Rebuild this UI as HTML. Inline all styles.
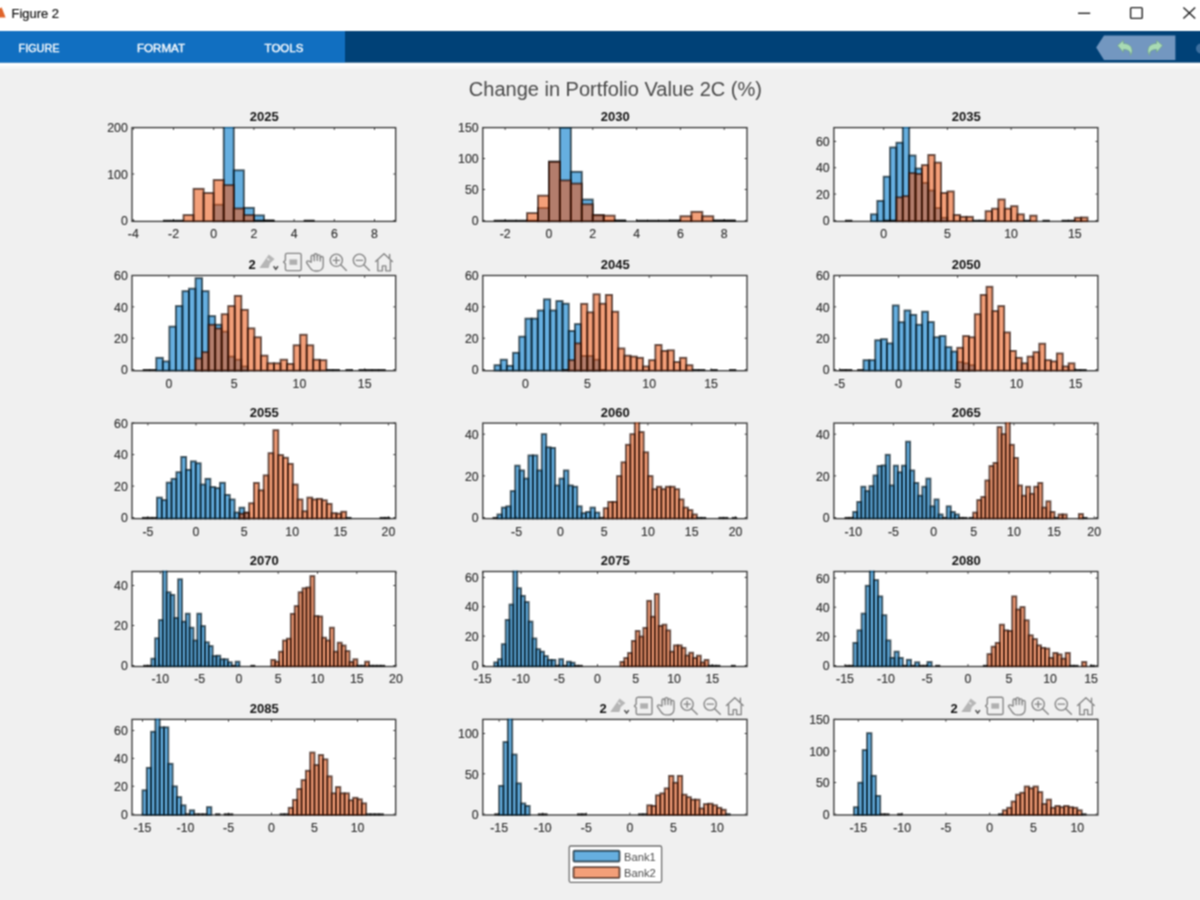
<!DOCTYPE html>
<html lang="en">
<head>
<meta charset="utf-8">
<title>Figure 2</title>
<style>
html,body{margin:0;padding:0;background:#f0f0f0;overflow:hidden}
body{width:1200px;height:900px;position:relative;font-family:"Liberation Sans",sans-serif}
svg{position:absolute;left:0;top:0;display:block}
text{font-family:"Liberation Sans",sans-serif}
.tl{font-size:12.3px;fill:#2e2e2e;stroke:#2e2e2e;stroke-width:.15}
.tt{font-size:13px;font-weight:bold;fill:#111}
.box{fill:none;stroke:#3a3a3a;stroke-width:1.35}
.tk{fill:none;stroke:#3a3a3a;stroke-width:1}
.b1{fill:#0079cc;fill-opacity:.6;stroke:#001018;stroke-opacity:.66;stroke-width:1.9}
.b2{fill:#ea5a18;fill-opacity:.58;stroke:#200800;stroke-opacity:.66;stroke-width:1.9}
.tb{fill:#0c0c0c;fill-opacity:.82}
.main{font-size:20px;fill:#484848}
.tab{font-size:11.3px;fill:#fff;stroke:#fff;stroke-width:.35}
.wt{font-size:12px;fill:#111;stroke:#111;stroke-width:.2}
.ic{fill:none;stroke:#858585;stroke-width:1.35;stroke-linecap:round;stroke-linejoin:round}
.lg{font-size:11.2px;fill:#4a4a4a}
</style>
</head>
<body>
<svg width="1200" height="900" viewBox="0 0 1200 900">
<defs>
<filter id="soft" filterUnits="userSpaceOnUse" x="0" y="0" width="1200" height="900" color-interpolation-filters="sRGB"><feConvolveMatrix order="3" kernelMatrix="1 2 1 2 4 2 1 2 1" divisor="16" edgeMode="duplicate" preserveAlpha="false"/></filter>
<g id="toolbar">
  <rect x="257" y="250" width="139" height="23" fill="#f0f0f0"/>
  <!-- brush -->
  <path d="M259.4 268 L268.8 254.6 L274.6 259 L270 263.2 L268.6 268 Z" fill="#b6b6b6"/>
  <path d="M267.2 258.5l2.2 1.8" stroke="#f0f0f0" stroke-width="1.2" fill="none"/>
  <path d="M273.6 266.2l2.2 3 2.2-3" fill="none" stroke="#4a4a4a" stroke-width="1.5"/>
  <!-- data tip -->
  <path class="ic" d="M287 253.4h12.6a1.6 1.6 0 0 1 1.6 1.6v14a1.6 1.6 0 0 1-1.6 1.6h-12.6a1.6 1.6 0 0 1-1.6-1.6v-5.2l-1.8-1.8 1.8-1.8v-5.2a1.6 1.6 0 0 1 1.6-1.6z"/>
  <rect x="289.4" y="259.4" width="7.8" height="5.4" fill="#b0b0b0"/>
  <!-- hand -->
  <path class="ic" d="M311.2 262.2v-5.6a1.5 1.5 0 0 1 3 0v-1.4a1.5 1.5 0 0 1 3 0v1.2a1.5 1.5 0 0 1 3 0v1.6a1.5 1.5 0 0 1 3 0v7.2c0 3.4-2.2 5.8-5.6 5.8h-2.4c-2.4 0-3.8-1.2-5-3l-3.4-5c-.8-1.4.6-2.6 2-1.8z"/>
  <path class="ic" d="M314.2 256.6v4.2M317.2 256.4v4.2M320.2 258v3"/>
  <!-- zoom in -->
  <circle class="ic" cx="336.3" cy="260.3" r="6.1"/>
  <path class="ic" d="M341 265l5.4 5.4" stroke-width="1.8"/>
  <path class="ic" d="M333.2 260.3h6.2M336.3 257.2v6.2"/>
  <!-- zoom out -->
  <circle class="ic" cx="359.4" cy="260.3" r="6.1"/>
  <path class="ic" d="M364.1 265l5.4 5.4" stroke-width="1.8"/>
  <path class="ic" d="M356.2 260.3h6.4"/>
  <!-- home -->
  <path class="ic" d="M375.6 261.6l8.4-7.8 8.4 7.8M377.8 260.4v10.4h4.6v-5h3.4v5h4.6v-10.4M389.6 258.4v-4"/>
</g>
</defs>
<g filter="url(#soft)">
<rect x="0" y="0" width="1200" height="900" fill="#f0f0f0"/>
<!-- window title bar -->
<rect x="0" y="0" width="1200" height="31" fill="#fff"/>
<g>
<path d="M-1 17.5 L-1 9.5 L1.6 7.2 L5.6 17.5 Z" fill="#e0642a"/>
<text class="wt" x="11.5" y="18.3" textLength="47.5" lengthAdjust="spacingAndGlyphs">Figure 2</text>
<path d="M1078 13.3h12.2" stroke="#222" stroke-width="1.4" fill="none"/>
<rect x="1130.6" y="7.6" width="11.6" height="10.8" rx="1" fill="none" stroke="#222" stroke-width="1.4"/>
<path d="M1183.4 7.4l11.8 11M1195.2 7.4l-11.8 11" stroke="#222" stroke-width="1.4" fill="none"/>
</g>
<!-- toolstrip -->
<rect x="0" y="31" width="1200" height="31.8" fill="#004177"/>
<rect x="0" y="31" width="345" height="31.8" fill="#116fc1"/>
<rect x="0" y="62.8" width="1200" height="3.4" fill="#fefefe"/><rect x="0" y="66.2" width="1200" height="2.6" fill="#f7f7f7"/>
<g>
<text class="tab" x="18.5" y="51.6" textLength="41" lengthAdjust="spacingAndGlyphs">FIGURE</text>
<text class="tab" x="137" y="51.6" textLength="48" lengthAdjust="spacingAndGlyphs">FORMAT</text>
<text class="tab" x="264.6" y="51.6" textLength="38.8" lengthAdjust="spacingAndGlyphs">TOOLS</text>
<path d="M1096.2 47.4 L1104 35.4 H1175.4 V60 H1104 Z" fill="#7397c0"/>
<path d="M1117.5 45.5l6-5.2v3.2c5.4 0 8.6 2.8 8.6 7.4 0 1.8-.8 3.4-2 4.6 1-3.6-1.4-6-6.6-6v3z" fill="#a9dbb4" stroke="#6f9f86" stroke-width=".7"/>
<path d="M1162.5 45.5l-6-5.2v3.2c-5.4 0-8.6 2.8-8.6 7.4 0 1.8.8 3.4 2 4.6-1-3.6 1.4-6 6.6-6v3z" fill="#a9dbb4" stroke="#6f9f86" stroke-width=".7"/>
<circle cx="1201" cy="48.5" r="5" fill="#3d6f9f"/>
<text class="main" x="615.4" y="95.8" text-anchor="middle">Change in Portfolio Value 2C (%)</text>
</g>
<g>
<rect x="132" y="127.6" width="263.65" height="93.8" fill="#fff"/>
<path class="tk" d="M133.3 221.4v-2.3 M133.3 127.6v2.3 M173.5 221.4v-2.3 M173.5 127.6v2.3 M213.7 221.4v-2.3 M213.7 127.6v2.3 M253.9 221.4v-2.3 M253.9 127.6v2.3 M294.1 221.4v-2.3 M294.1 127.6v2.3 M334.3 221.4v-2.3 M334.3 127.6v2.3 M374.5 221.4v-2.3 M374.5 127.6v2.3 M132 220.4h2.3 M395.65 220.4h-2.3 M132 174h2.3 M395.65 174h-2.3 M132 127.6h2.3 M395.65 127.6h-2.3"/>
<rect class="box" x="132" y="127.6" width="263.65" height="93.8"/>
<clipPath id="c0"><rect x="132" y="126.9" width="263.65" height="95.3"/></clipPath>
<g clip-path="url(#c0)">
<rect class="b1" x="213.7" y="204.72" width="10.05" height="16.68"/><rect class="b1" x="223.75" y="122.96" width="10.05" height="98.44"/><rect class="b1" x="233.8" y="170.29" width="10.05" height="51.11"/><rect class="b1" x="243.85" y="207.87" width="10.05" height="13.53"/><rect class="b1" x="253.9" y="215.39" width="10.05" height="6.01"/><rect class="tb" x="263.45" y="219.7" width="11.05" height="2.3"/><rect class="tb" x="303.65" y="219.7" width="11.05" height="2.3"/>
<rect class="tb" x="162.95" y="219.7" width="11.05" height="2.3"/><rect class="tb" x="173" y="219.7" width="11.05" height="2.3"/><rect class="b2" x="183.55" y="215.06" width="10.05" height="6.34"/><rect class="b2" x="193.6" y="188.85" width="10.05" height="32.55"/><rect class="b2" x="203.65" y="193.02" width="10.05" height="28.38"/><rect class="b2" x="213.7" y="180.03" width="10.05" height="41.37"/><rect class="b2" x="223.75" y="185.14" width="10.05" height="36.26"/><rect class="b2" x="233.8" y="208.48" width="10.05" height="12.92"/><rect class="b2" x="243.85" y="215.11" width="10.05" height="6.29"/><rect class="tb" x="253.4" y="219.7" width="11.05" height="2.3"/><rect class="tb" x="263.45" y="219.7" width="11.05" height="2.3"/>
</g>
<text class="tl" x="133.3" y="238.3" text-anchor="middle">-4</text>
<text class="tl" x="173.5" y="238.3" text-anchor="middle">-2</text>
<text class="tl" x="213.7" y="238.3" text-anchor="middle">0</text>
<text class="tl" x="253.9" y="238.3" text-anchor="middle">2</text>
<text class="tl" x="294.1" y="238.3" text-anchor="middle">4</text>
<text class="tl" x="334.3" y="238.3" text-anchor="middle">6</text>
<text class="tl" x="374.5" y="238.3" text-anchor="middle">8</text>
<text class="tl" x="127.8" y="225.1" text-anchor="end">0</text>
<text class="tl" x="127.8" y="178.7" text-anchor="end">100</text>
<text class="tl" x="127.8" y="132.3" text-anchor="end">200</text>
<text class="tt" x="264.22" y="121.2" text-anchor="middle">2025</text>
</g>
<g>
<rect x="482.8" y="127.6" width="264.2" height="93.8" fill="#fff"/>
<path class="tk" d="M505.13 221.4v-2.3 M505.13 127.6v2.3 M548.95 221.4v-2.3 M548.95 127.6v2.3 M592.77 221.4v-2.3 M592.77 127.6v2.3 M636.59 221.4v-2.3 M636.59 127.6v2.3 M680.41 221.4v-2.3 M680.41 127.6v2.3 M724.23 221.4v-2.3 M724.23 127.6v2.3 M482.8 220.4h2.3 M747 220.4h-2.3 M482.8 189.47h2.3 M747 189.47h-2.3 M482.8 158.53h2.3 M747 158.53h-2.3 M482.8 127.6h2.3 M747 127.6h-2.3"/>
<rect class="box" x="482.8" y="127.6" width="264.2" height="93.8"/>
<clipPath id="c1"><rect x="482.8" y="126.9" width="264.2" height="95.3"/></clipPath>
<g clip-path="url(#c1)">
<rect class="tb" x="493.68" y="219.7" width="11.96" height="2.3"/><rect class="tb" x="526.54" y="219.7" width="11.96" height="2.3"/><rect class="b1" x="538" y="208.03" width="10.96" height="13.37"/><rect class="b1" x="548.95" y="161.63" width="10.96" height="59.77"/><rect class="b1" x="559.91" y="127.6" width="10.96" height="93.8"/><rect class="b1" x="570.86" y="171.83" width="10.96" height="49.57"/><rect class="b1" x="581.82" y="199.55" width="10.96" height="21.85"/><rect class="b1" x="592.77" y="215.45" width="10.96" height="5.95"/><rect class="tb" x="603.23" y="219.7" width="11.96" height="2.3"/><rect class="tb" x="614.18" y="219.7" width="11.96" height="2.3"/><rect class="tb" x="636.09" y="219.7" width="11.96" height="2.3"/><rect class="tb" x="668.96" y="219.7" width="11.96" height="2.3"/><rect class="tb" x="712.78" y="219.7" width="11.96" height="2.3"/><rect class="tb" x="723.73" y="219.7" width="11.96" height="2.3"/>
<rect class="tb" x="504.63" y="219.7" width="11.96" height="2.3"/><rect class="tb" x="515.59" y="219.7" width="11.96" height="2.3"/><rect class="b2" x="527.04" y="213.1" width="10.96" height="8.3"/><rect class="b2" x="538" y="195.65" width="10.96" height="25.75"/><rect class="b2" x="548.95" y="161.81" width="10.96" height="59.59"/><rect class="b2" x="559.91" y="180.43" width="10.96" height="40.97"/><rect class="b2" x="570.86" y="183.59" width="10.96" height="37.81"/><rect class="b2" x="581.82" y="204.31" width="10.96" height="17.09"/><rect class="b2" x="592.77" y="215.02" width="10.96" height="6.38"/><rect class="b2" x="603.73" y="215.64" width="10.96" height="5.76"/><rect class="tb" x="614.18" y="219.7" width="11.96" height="2.3"/><rect class="tb" x="647.05" y="219.7" width="11.96" height="2.3"/><rect class="tb" x="658" y="219.7" width="11.96" height="2.3"/><rect class="tb" x="668.96" y="219.7" width="11.96" height="2.3"/><rect class="b2" x="680.41" y="216.25" width="10.96" height="5.15"/><rect class="b2" x="691.37" y="211.86" width="10.96" height="9.54"/><rect class="b2" x="702.32" y="216.25" width="10.96" height="5.15"/><rect class="tb" x="712.78" y="219.7" width="11.96" height="2.3"/><rect class="tb" x="723.73" y="219.7" width="11.96" height="2.3"/>
</g>
<text class="tl" x="505.13" y="238.3" text-anchor="middle">-2</text>
<text class="tl" x="548.95" y="238.3" text-anchor="middle">0</text>
<text class="tl" x="592.77" y="238.3" text-anchor="middle">2</text>
<text class="tl" x="636.59" y="238.3" text-anchor="middle">4</text>
<text class="tl" x="680.41" y="238.3" text-anchor="middle">6</text>
<text class="tl" x="724.23" y="238.3" text-anchor="middle">8</text>
<text class="tl" x="478.6" y="225.1" text-anchor="end">0</text>
<text class="tl" x="478.6" y="194.17" text-anchor="end">50</text>
<text class="tl" x="478.6" y="163.23" text-anchor="end">100</text>
<text class="tl" x="478.6" y="132.3" text-anchor="end">150</text>
<text class="tt" x="615.3" y="121.2" text-anchor="middle">2030</text>
</g>
<g>
<rect x="833.9" y="127.6" width="263.95" height="93.8" fill="#fff"/>
<path class="tk" d="M883.7 221.4v-2.3 M883.7 127.6v2.3 M947.4 221.4v-2.3 M947.4 127.6v2.3 M1011.1 221.4v-2.3 M1011.1 127.6v2.3 M1074.8 221.4v-2.3 M1074.8 127.6v2.3 M833.9 220.4h2.3 M1097.85 220.4h-2.3 M833.9 194.07h2.3 M1097.85 194.07h-2.3 M833.9 167.75h2.3 M1097.85 167.75h-2.3 M833.9 141.42h2.3 M1097.85 141.42h-2.3"/>
<rect class="box" x="833.9" y="127.6" width="263.95" height="93.8"/>
<clipPath id="c2"><rect x="833.9" y="126.9" width="263.95" height="95.3"/></clipPath>
<g clip-path="url(#c2)">
<rect class="tb" x="844.98" y="219.7" width="7.37" height="2.3"/><rect class="b1" x="870.96" y="214.34" width="6.37" height="7.06"/><rect class="b1" x="877.33" y="200.92" width="6.37" height="20.48"/><rect class="b1" x="883.7" y="176.7" width="6.37" height="44.7"/><rect class="b1" x="890.07" y="147.48" width="6.37" height="73.92"/><rect class="b1" x="896.44" y="142.74" width="6.37" height="78.66"/><rect class="b1" x="902.81" y="122.96" width="6.37" height="98.44"/><rect class="b1" x="909.18" y="155.51" width="6.37" height="65.89"/><rect class="b1" x="915.55" y="168.54" width="6.37" height="52.86"/><rect class="b1" x="921.92" y="182.89" width="6.37" height="38.51"/><rect class="b1" x="928.29" y="190.52" width="6.37" height="30.88"/><rect class="b1" x="934.66" y="208.03" width="6.37" height="13.37"/><rect class="b1" x="941.03" y="217.77" width="6.37" height="3.63"/>
<rect class="tb" x="883.2" y="219.7" width="7.37" height="2.3"/><rect class="tb" x="889.57" y="219.7" width="7.37" height="2.3"/><rect class="b2" x="896.44" y="197.36" width="6.37" height="24.04"/><rect class="b2" x="902.81" y="196.18" width="6.37" height="25.22"/><rect class="b2" x="909.18" y="173.14" width="6.37" height="48.26"/><rect class="b2" x="915.55" y="173.93" width="6.37" height="47.47"/><rect class="b2" x="921.92" y="165.11" width="6.37" height="56.29"/><rect class="b2" x="928.29" y="154.98" width="6.37" height="66.42"/><rect class="b2" x="934.66" y="162.61" width="6.37" height="58.79"/><rect class="b2" x="941.03" y="193.02" width="6.37" height="28.38"/><rect class="b2" x="947.4" y="191.44" width="6.37" height="29.96"/><rect class="b2" x="953.77" y="215" width="6.37" height="6.4"/><rect class="b2" x="960.14" y="216.85" width="6.37" height="4.55"/><rect class="b2" x="966.51" y="216.85" width="6.37" height="4.55"/><rect class="tb" x="972.38" y="219.7" width="7.37" height="2.3"/><rect class="tb" x="978.75" y="219.7" width="7.37" height="2.3"/><rect class="b2" x="985.62" y="211.19" width="6.37" height="10.21"/><rect class="b2" x="991.99" y="208.68" width="6.37" height="12.72"/><rect class="b2" x="998.36" y="199.47" width="6.37" height="21.93"/><rect class="b2" x="1004.73" y="208.68" width="6.37" height="12.72"/><rect class="b2" x="1011.1" y="206.18" width="6.37" height="15.22"/><rect class="b2" x="1017.47" y="214.34" width="6.37" height="7.06"/><rect class="tb" x="1023.34" y="219.7" width="7.37" height="2.3"/><rect class="b2" x="1030.21" y="215.66" width="6.37" height="5.74"/><rect class="tb" x="1042.45" y="219.7" width="7.37" height="2.3"/><rect class="tb" x="1061.56" y="219.7" width="7.37" height="2.3"/><rect class="tb" x="1067.93" y="219.7" width="7.37" height="2.3"/><rect class="b2" x="1074.8" y="217.77" width="6.37" height="3.63"/><rect class="b2" x="1081.17" y="217.5" width="6.37" height="3.9"/>
</g>
<text class="tl" x="883.7" y="238.3" text-anchor="middle">0</text>
<text class="tl" x="947.4" y="238.3" text-anchor="middle">5</text>
<text class="tl" x="1011.1" y="238.3" text-anchor="middle">10</text>
<text class="tl" x="1074.8" y="238.3" text-anchor="middle">15</text>
<text class="tl" x="829.7" y="225.1" text-anchor="end">0</text>
<text class="tl" x="829.7" y="198.77" text-anchor="end">20</text>
<text class="tl" x="829.7" y="172.45" text-anchor="end">40</text>
<text class="tl" x="829.7" y="146.12" text-anchor="end">60</text>
<text class="tt" x="966.27" y="121.2" text-anchor="middle">2035</text>
</g>
<g>
<rect x="132" y="275.5" width="263.65" height="95.2" fill="#fff"/>
<path class="tk" d="M168.8 370.7v-2.3 M168.8 275.5v2.3 M234.1 370.7v-2.3 M234.1 275.5v2.3 M299.4 370.7v-2.3 M299.4 275.5v2.3 M364.7 370.7v-2.3 M364.7 275.5v2.3 M132 369.6h2.3 M395.65 369.6h-2.3 M132 338.23h2.3 M395.65 338.23h-2.3 M132 306.87h2.3 M395.65 306.87h-2.3 M132 275.5h2.3 M395.65 275.5h-2.3"/>
<rect class="box" x="132" y="275.5" width="263.65" height="95.2"/>
<clipPath id="c3"><rect x="132" y="274.8" width="263.65" height="96.7"/></clipPath>
<g clip-path="url(#c3)">
<rect class="tb" x="142.72" y="369" width="7.54" height="2.3"/><rect class="tb" x="149.26" y="369" width="7.54" height="2.3"/><rect class="b1" x="156.3" y="357.84" width="6.54" height="12.86"/><rect class="b1" x="162.84" y="361.44" width="6.54" height="9.26"/><rect class="b1" x="169.38" y="326.63" width="6.54" height="44.07"/><rect class="b1" x="175.92" y="306.08" width="6.54" height="64.62"/><rect class="b1" x="182.46" y="291.18" width="6.54" height="79.52"/><rect class="b1" x="189" y="288.67" width="6.54" height="82.03"/><rect class="b1" x="195.54" y="278.17" width="6.54" height="92.53"/><rect class="b1" x="202.08" y="291.18" width="6.54" height="79.52"/><rect class="b1" x="208.62" y="316.12" width="6.54" height="54.58"/><rect class="b1" x="215.16" y="324.75" width="6.54" height="45.95"/><rect class="b1" x="221.7" y="331.65" width="6.54" height="39.05"/><rect class="b1" x="228.24" y="356.58" width="6.54" height="14.12"/><rect class="b1" x="234.78" y="359.72" width="6.54" height="10.98"/><rect class="b1" x="241.32" y="366.46" width="6.54" height="4.24"/>
<rect class="b2" x="195.54" y="358.46" width="6.54" height="12.24"/><rect class="b2" x="202.08" y="352.19" width="6.54" height="18.51"/><rect class="b2" x="208.62" y="324.75" width="6.54" height="45.95"/><rect class="b2" x="215.16" y="328.51" width="6.54" height="42.19"/><rect class="b2" x="221.7" y="314.24" width="6.54" height="56.46"/><rect class="b2" x="228.24" y="306.08" width="6.54" height="64.62"/><rect class="b2" x="234.78" y="295.89" width="6.54" height="74.81"/><rect class="b2" x="241.32" y="309.85" width="6.54" height="60.85"/><rect class="b2" x="247.86" y="328.35" width="6.54" height="42.35"/><rect class="b2" x="254.4" y="337.29" width="6.54" height="33.41"/><rect class="b2" x="260.94" y="355.64" width="6.54" height="15.06"/><rect class="b2" x="267.48" y="363.33" width="6.54" height="7.37"/><rect class="b2" x="274.02" y="363.33" width="6.54" height="7.37"/><rect class="b2" x="280.56" y="359.72" width="6.54" height="10.98"/><rect class="b2" x="287.1" y="363.95" width="6.54" height="6.75"/><rect class="b2" x="293.64" y="345.29" width="6.54" height="25.41"/><rect class="b2" x="300.18" y="334.78" width="6.54" height="35.92"/><rect class="b2" x="306.72" y="345.29" width="6.54" height="25.41"/><rect class="b2" x="313.26" y="359.72" width="6.54" height="10.98"/><rect class="b2" x="319.8" y="360.19" width="6.54" height="10.51"/><rect class="tb" x="325.84" y="369" width="7.54" height="2.3"/><rect class="tb" x="332.38" y="369" width="7.54" height="2.3"/><rect class="tb" x="345.46" y="369" width="7.54" height="2.3"/><rect class="tb" x="358.54" y="369" width="7.54" height="2.3"/><rect class="tb" x="365.08" y="369" width="7.54" height="2.3"/><rect class="tb" x="371.62" y="369" width="7.54" height="2.3"/><rect class="tb" x="378.16" y="369" width="7.54" height="2.3"/>
</g>
<text class="tl" x="168.8" y="387.6" text-anchor="middle">0</text>
<text class="tl" x="234.1" y="387.6" text-anchor="middle">5</text>
<text class="tl" x="299.4" y="387.6" text-anchor="middle">10</text>
<text class="tl" x="364.7" y="387.6" text-anchor="middle">15</text>
<text class="tl" x="127.8" y="374.3" text-anchor="end">0</text>
<text class="tl" x="127.8" y="342.93" text-anchor="end">20</text>
<text class="tl" x="127.8" y="311.57" text-anchor="end">40</text>
<text class="tl" x="127.8" y="280.2" text-anchor="end">60</text>
<text class="tt" x="248.6" y="269.1">2</text>
<use href="#toolbar" x="0" y="0"/>
</g>
<g>
<rect x="482.8" y="275.5" width="264.2" height="95.2" fill="#fff"/>
<path class="tk" d="M525.5 370.7v-2.3 M525.5 275.5v2.3 M587.35 370.7v-2.3 M587.35 275.5v2.3 M649.2 370.7v-2.3 M649.2 275.5v2.3 M711.05 370.7v-2.3 M711.05 275.5v2.3 M482.8 369.6h2.3 M747 369.6h-2.3 M482.8 338.23h2.3 M747 338.23h-2.3 M482.8 306.87h2.3 M747 306.87h-2.3 M482.8 275.5h2.3 M747 275.5h-2.3"/>
<rect class="box" x="482.8" y="275.5" width="264.2" height="95.2"/>
<clipPath id="c4"><rect x="482.8" y="274.8" width="264.2" height="96.7"/></clipPath>
<g clip-path="url(#c4)">
<rect class="b1" x="494.5" y="365.21" width="6.19" height="5.49"/><rect class="b1" x="500.69" y="359.72" width="6.19" height="10.98"/><rect class="b1" x="506.87" y="365.84" width="6.19" height="4.86"/><rect class="b1" x="513.06" y="352.82" width="6.19" height="17.88"/><rect class="b1" x="519.24" y="336.67" width="6.19" height="34.03"/><rect class="b1" x="525.43" y="318.63" width="6.19" height="52.07"/><rect class="b1" x="531.62" y="318.63" width="6.19" height="52.07"/><rect class="b1" x="537.8" y="310.47" width="6.19" height="60.23"/><rect class="b1" x="543.99" y="299.34" width="6.19" height="71.36"/><rect class="b1" x="550.17" y="310.47" width="6.19" height="60.23"/><rect class="b1" x="556.36" y="301.06" width="6.19" height="69.64"/><rect class="b1" x="562.55" y="303.73" width="6.19" height="66.97"/><rect class="b1" x="568.73" y="331.02" width="6.19" height="39.68"/><rect class="b1" x="574.92" y="324.12" width="6.19" height="46.58"/><rect class="b1" x="581.1" y="355.96" width="6.19" height="14.74"/><rect class="b1" x="587.29" y="355.96" width="6.19" height="14.74"/><rect class="b1" x="593.48" y="359.72" width="6.19" height="10.98"/><rect class="tb" x="599.16" y="369" width="7.19" height="2.3"/>
<rect class="tb" x="562.05" y="369" width="7.19" height="2.3"/><rect class="b2" x="568.73" y="360.19" width="6.19" height="10.51"/><rect class="b2" x="574.92" y="343.41" width="6.19" height="27.29"/><rect class="b2" x="581.1" y="303.89" width="6.19" height="66.81"/><rect class="b2" x="587.29" y="312.36" width="6.19" height="58.34"/><rect class="b2" x="593.48" y="294.32" width="6.19" height="76.38"/><rect class="b2" x="599.66" y="303.73" width="6.19" height="66.97"/><rect class="b2" x="605.85" y="294.95" width="6.19" height="75.75"/><rect class="b2" x="612.03" y="311.73" width="6.19" height="58.97"/><rect class="b2" x="618.22" y="348.43" width="6.19" height="22.27"/><rect class="b2" x="624.41" y="355.64" width="6.19" height="15.06"/><rect class="b2" x="630.59" y="356.58" width="6.19" height="14.12"/><rect class="b2" x="636.78" y="357.84" width="6.19" height="12.86"/><rect class="b2" x="642.96" y="366.46" width="6.19" height="4.24"/><rect class="b2" x="649.15" y="360.19" width="6.19" height="10.51"/><rect class="b2" x="655.34" y="344.98" width="6.19" height="25.72"/><rect class="b2" x="661.52" y="350.94" width="6.19" height="19.76"/><rect class="b2" x="667.71" y="350.31" width="6.19" height="20.39"/><rect class="b2" x="673.89" y="362.07" width="6.19" height="8.63"/><rect class="b2" x="680.08" y="357.84" width="6.19" height="12.86"/><rect class="b2" x="686.27" y="365.21" width="6.19" height="5.49"/><rect class="tb" x="691.95" y="369" width="7.19" height="2.3"/><rect class="tb" x="698.14" y="369" width="7.19" height="2.3"/><rect class="tb" x="710.51" y="369" width="7.19" height="2.3"/><rect class="tb" x="729.07" y="369" width="7.19" height="2.3"/>
</g>
<text class="tl" x="525.5" y="387.6" text-anchor="middle">0</text>
<text class="tl" x="587.35" y="387.6" text-anchor="middle">5</text>
<text class="tl" x="649.2" y="387.6" text-anchor="middle">10</text>
<text class="tl" x="711.05" y="387.6" text-anchor="middle">15</text>
<text class="tl" x="478.6" y="374.3" text-anchor="end">0</text>
<text class="tl" x="478.6" y="342.93" text-anchor="end">20</text>
<text class="tl" x="478.6" y="311.57" text-anchor="end">40</text>
<text class="tl" x="478.6" y="280.2" text-anchor="end">60</text>
<text class="tt" x="615.3" y="269.1" text-anchor="middle">2045</text>
</g>
<g>
<rect x="833.9" y="275.5" width="263.95" height="95.2" fill="#fff"/>
<path class="tk" d="M839.6 370.7v-2.3 M839.6 275.5v2.3 M898.6 370.7v-2.3 M898.6 275.5v2.3 M957.6 370.7v-2.3 M957.6 275.5v2.3 M1016.6 370.7v-2.3 M1016.6 275.5v2.3 M1075.6 370.7v-2.3 M1075.6 275.5v2.3 M833.9 369.6h2.3 M1097.85 369.6h-2.3 M833.9 338.23h2.3 M1097.85 338.23h-2.3 M833.9 306.87h2.3 M1097.85 306.87h-2.3 M833.9 275.5h2.3 M1097.85 275.5h-2.3"/>
<rect class="box" x="833.9" y="275.5" width="263.95" height="95.2"/>
<clipPath id="c5"><rect x="833.9" y="274.8" width="263.95" height="96.7"/></clipPath>
<g clip-path="url(#c5)">
<rect class="tb" x="839.56" y="369" width="6.86" height="2.3"/><rect class="tb" x="845.42" y="369" width="6.86" height="2.3"/><rect class="tb" x="857.14" y="369" width="6.86" height="2.3"/><rect class="b1" x="863.5" y="360.19" width="5.86" height="10.51"/><rect class="b1" x="869.36" y="360.19" width="5.86" height="10.51"/><rect class="b1" x="875.22" y="340.27" width="5.86" height="30.43"/><rect class="b1" x="881.08" y="339.17" width="5.86" height="31.53"/><rect class="b1" x="886.94" y="343.41" width="5.86" height="27.29"/><rect class="b1" x="892.8" y="305.46" width="5.86" height="65.24"/><rect class="b1" x="898.66" y="322.24" width="5.86" height="48.46"/><rect class="b1" x="904.52" y="310.47" width="5.86" height="60.23"/><rect class="b1" x="910.38" y="314.87" width="5.86" height="55.83"/><rect class="b1" x="916.24" y="324.75" width="5.86" height="45.95"/><rect class="b1" x="922.1" y="311.73" width="5.86" height="58.97"/><rect class="b1" x="927.96" y="322.08" width="5.86" height="48.62"/><rect class="b1" x="933.82" y="337.29" width="5.86" height="33.41"/><rect class="b1" x="939.68" y="336.04" width="5.86" height="34.66"/><rect class="b1" x="945.54" y="347.17" width="5.86" height="23.53"/><rect class="b1" x="951.4" y="351.56" width="5.86" height="19.14"/><rect class="b1" x="957.26" y="362.07" width="5.86" height="8.63"/><rect class="b1" x="963.12" y="363.33" width="5.86" height="7.37"/><rect class="b1" x="968.98" y="365.21" width="5.86" height="5.49"/>
<rect class="b2" x="957.26" y="347.8" width="5.86" height="22.9"/><rect class="b2" x="963.12" y="336.04" width="5.86" height="34.66"/><rect class="b2" x="968.98" y="337.29" width="5.86" height="33.41"/><rect class="b2" x="974.84" y="314.24" width="5.86" height="56.46"/><rect class="b2" x="980.7" y="294.95" width="5.86" height="75.75"/><rect class="b2" x="986.56" y="286.79" width="5.86" height="83.91"/><rect class="b2" x="992.42" y="311.1" width="5.86" height="59.6"/><rect class="b2" x="998.28" y="306.08" width="5.86" height="64.62"/><rect class="b2" x="1004.14" y="332.43" width="5.86" height="38.27"/><rect class="b2" x="1010" y="350.94" width="5.86" height="19.76"/><rect class="b2" x="1015.86" y="357.84" width="5.86" height="12.86"/><rect class="b2" x="1021.72" y="363.33" width="5.86" height="7.37"/><rect class="b2" x="1027.58" y="356.58" width="5.86" height="14.12"/><rect class="b2" x="1033.44" y="352.19" width="5.86" height="18.51"/><rect class="b2" x="1039.3" y="343.72" width="5.86" height="26.98"/><rect class="b2" x="1045.16" y="360.19" width="5.86" height="10.51"/><rect class="b2" x="1051.02" y="361.44" width="5.86" height="9.26"/><rect class="b2" x="1056.88" y="353.45" width="5.86" height="17.25"/><rect class="b2" x="1062.74" y="366.46" width="5.86" height="4.24"/><rect class="b2" x="1068.6" y="363.33" width="5.86" height="7.37"/><rect class="tb" x="1073.96" y="369" width="6.86" height="2.3"/><rect class="tb" x="1079.82" y="369" width="6.86" height="2.3"/>
</g>
<text class="tl" x="839.6" y="387.6" text-anchor="middle">-5</text>
<text class="tl" x="898.6" y="387.6" text-anchor="middle">0</text>
<text class="tl" x="957.6" y="387.6" text-anchor="middle">5</text>
<text class="tl" x="1016.6" y="387.6" text-anchor="middle">10</text>
<text class="tl" x="1075.6" y="387.6" text-anchor="middle">15</text>
<text class="tl" x="829.7" y="374.3" text-anchor="end">0</text>
<text class="tl" x="829.7" y="342.93" text-anchor="end">20</text>
<text class="tl" x="829.7" y="311.57" text-anchor="end">40</text>
<text class="tl" x="829.7" y="280.2" text-anchor="end">60</text>
<text class="tt" x="966.27" y="269.1" text-anchor="middle">2050</text>
</g>
<g>
<rect x="132" y="423.1" width="263.65" height="95.5" fill="#fff"/>
<path class="tk" d="M147.9 518.6v-2.3 M147.9 423.1v2.3 M196 518.6v-2.3 M196 423.1v2.3 M244.1 518.6v-2.3 M244.1 423.1v2.3 M292.2 518.6v-2.3 M292.2 423.1v2.3 M340.3 518.6v-2.3 M340.3 423.1v2.3 M388.4 518.6v-2.3 M388.4 423.1v2.3 M132 517.6h2.3 M395.65 517.6h-2.3 M132 486.1h2.3 M395.65 486.1h-2.3 M132 454.6h2.3 M395.65 454.6h-2.3 M132 423.1h2.3 M395.65 423.1h-2.3"/>
<rect class="box" x="132" y="423.1" width="263.65" height="95.5"/>
<clipPath id="c6"><rect x="132" y="422.4" width="263.65" height="97"/></clipPath>
<g clip-path="url(#c6)">
<rect class="tb" x="141.95" y="516.9" width="5.85" height="2.3"/><rect class="tb" x="146.8" y="516.9" width="5.85" height="2.3"/><rect class="tb" x="151.65" y="516.9" width="5.85" height="2.3"/><rect class="b1" x="157" y="497.6" width="4.85" height="21"/><rect class="b1" x="161.85" y="500.12" width="4.85" height="18.48"/><rect class="b1" x="166.7" y="482.64" width="4.85" height="35.96"/><rect class="b1" x="171.55" y="478.86" width="4.85" height="39.75"/><rect class="b1" x="176.4" y="472.24" width="4.85" height="46.36"/><rect class="b1" x="181.25" y="456.96" width="4.85" height="61.64"/><rect class="b1" x="186.1" y="469.88" width="4.85" height="48.72"/><rect class="b1" x="190.95" y="461.37" width="4.85" height="57.23"/><rect class="b1" x="195.8" y="463.26" width="4.85" height="55.34"/><rect class="b1" x="200.65" y="484.53" width="4.85" height="34.07"/><rect class="b1" x="205.5" y="478.86" width="4.85" height="39.75"/><rect class="b1" x="210.35" y="487.05" width="4.85" height="31.56"/><rect class="b1" x="215.2" y="488.15" width="4.85" height="30.45"/><rect class="b1" x="220.05" y="482.79" width="4.85" height="35.81"/><rect class="b1" x="224.9" y="494.92" width="4.85" height="23.68"/><rect class="b1" x="229.75" y="499.49" width="4.85" height="19.11"/><rect class="b1" x="234.6" y="512.56" width="4.85" height="6.04"/><rect class="b1" x="239.45" y="507.68" width="4.85" height="10.92"/><rect class="b1" x="244.3" y="512.88" width="4.85" height="5.73"/>
<rect class="b2" x="239.45" y="513.82" width="4.85" height="4.78"/><rect class="b2" x="244.3" y="512.56" width="4.85" height="6.04"/><rect class="b2" x="249.15" y="503.27" width="4.85" height="15.33"/><rect class="b2" x="254" y="482.95" width="4.85" height="35.65"/><rect class="b2" x="258.85" y="490.35" width="4.85" height="28.25"/><rect class="b2" x="263.7" y="475.39" width="4.85" height="43.21"/><rect class="b2" x="268.55" y="453.18" width="4.85" height="65.42"/><rect class="b2" x="273.4" y="430.19" width="4.85" height="88.41"/><rect class="b2" x="278.25" y="455.07" width="4.85" height="63.53"/><rect class="b2" x="283.1" y="457.75" width="4.85" height="60.85"/><rect class="b2" x="287.95" y="463.89" width="4.85" height="54.71"/><rect class="b2" x="292.8" y="484.53" width="4.85" height="34.07"/><rect class="b2" x="297.65" y="499.49" width="4.85" height="19.11"/><rect class="b2" x="302.5" y="511.3" width="4.85" height="7.3"/><rect class="b2" x="307.35" y="497.6" width="4.85" height="21"/><rect class="b2" x="312.2" y="499.49" width="4.85" height="19.11"/><rect class="b2" x="317.05" y="498.86" width="4.85" height="19.74"/><rect class="b2" x="321.9" y="500.28" width="4.85" height="18.32"/><rect class="b2" x="326.75" y="503.9" width="4.85" height="14.7"/><rect class="b2" x="331.6" y="513.19" width="4.85" height="5.41"/><rect class="b2" x="336.45" y="513.66" width="4.85" height="4.94"/><rect class="b2" x="341.3" y="511.77" width="4.85" height="6.83"/><rect class="tb" x="345.65" y="516.9" width="5.85" height="2.3"/><rect class="tb" x="379.6" y="516.9" width="5.85" height="2.3"/><rect class="tb" x="384.45" y="516.9" width="5.85" height="2.3"/>
</g>
<text class="tl" x="147.9" y="535.5" text-anchor="middle">-5</text>
<text class="tl" x="196" y="535.5" text-anchor="middle">0</text>
<text class="tl" x="244.1" y="535.5" text-anchor="middle">5</text>
<text class="tl" x="292.2" y="535.5" text-anchor="middle">10</text>
<text class="tl" x="340.3" y="535.5" text-anchor="middle">15</text>
<text class="tl" x="388.4" y="535.5" text-anchor="middle">20</text>
<text class="tl" x="127.8" y="522.3" text-anchor="end">0</text>
<text class="tl" x="127.8" y="490.8" text-anchor="end">20</text>
<text class="tl" x="127.8" y="459.3" text-anchor="end">40</text>
<text class="tl" x="127.8" y="427.8" text-anchor="end">60</text>
<text class="tt" x="264.22" y="416.7" text-anchor="middle">2055</text>
</g>
<g>
<rect x="482.8" y="423.1" width="264.2" height="95.5" fill="#fff"/>
<path class="tk" d="M516.5 518.6v-2.3 M516.5 423.1v2.3 M560.3 518.6v-2.3 M560.3 423.1v2.3 M604.1 518.6v-2.3 M604.1 423.1v2.3 M647.9 518.6v-2.3 M647.9 423.1v2.3 M691.7 518.6v-2.3 M691.7 423.1v2.3 M735.5 518.6v-2.3 M735.5 423.1v2.3 M482.8 517.6h2.3 M747 517.6h-2.3 M482.8 475.88h2.3 M747 475.88h-2.3 M482.8 434.16h2.3 M747 434.16h-2.3"/>
<rect class="box" x="482.8" y="423.1" width="264.2" height="95.5"/>
<clipPath id="c7"><rect x="482.8" y="422.4" width="264.2" height="97"/></clipPath>
<g clip-path="url(#c7)">
<rect class="tb" x="492.54" y="516.9" width="5.43" height="2.3"/><rect class="b1" x="497.47" y="514.47" width="4.43" height="4.13"/><rect class="b1" x="501.9" y="507.59" width="4.43" height="11.01"/><rect class="b1" x="506.33" y="506.34" width="4.43" height="12.26"/><rect class="b1" x="510.76" y="491.11" width="4.43" height="27.49"/><rect class="b1" x="515.19" y="465.66" width="4.43" height="52.94"/><rect class="b1" x="519.62" y="470.45" width="4.43" height="48.15"/><rect class="b1" x="524.05" y="478.59" width="4.43" height="40.01"/><rect class="b1" x="528.48" y="455.43" width="4.43" height="63.17"/><rect class="b1" x="532.91" y="455.43" width="4.43" height="63.17"/><rect class="b1" x="537.34" y="470.45" width="4.43" height="48.15"/><rect class="b1" x="541.77" y="434.16" width="4.43" height="84.44"/><rect class="b1" x="546.2" y="447.3" width="4.43" height="71.3"/><rect class="b1" x="550.63" y="447.92" width="4.43" height="70.68"/><rect class="b1" x="555.06" y="485.47" width="4.43" height="33.13"/><rect class="b1" x="559.49" y="478.59" width="4.43" height="40.01"/><rect class="b1" x="563.92" y="470.45" width="4.43" height="48.15"/><rect class="b1" x="568.35" y="485.47" width="4.43" height="33.13"/><rect class="b1" x="572.78" y="486.73" width="4.43" height="31.87"/><rect class="b1" x="577.21" y="506.34" width="4.43" height="12.26"/><rect class="b1" x="581.64" y="513.22" width="4.43" height="5.38"/><rect class="b1" x="586.07" y="511.97" width="4.43" height="6.63"/><rect class="b1" x="590.5" y="507.59" width="4.43" height="11.01"/><rect class="b1" x="594.93" y="512.59" width="4.43" height="6.01"/>
<rect class="tb" x="598.86" y="516.9" width="5.43" height="2.3"/><rect class="b2" x="603.79" y="508.21" width="4.43" height="10.39"/><rect class="b2" x="608.22" y="501.95" width="4.43" height="16.65"/><rect class="b2" x="612.65" y="501.95" width="4.43" height="16.65"/><rect class="b2" x="617.08" y="476.09" width="4.43" height="42.51"/><rect class="b2" x="621.51" y="462.32" width="4.43" height="56.28"/><rect class="b2" x="625.94" y="444.8" width="4.43" height="73.8"/><rect class="b2" x="630.37" y="434.16" width="4.43" height="84.44"/><rect class="b2" x="634.8" y="419.55" width="4.43" height="99.05"/><rect class="b2" x="639.23" y="432.07" width="4.43" height="86.53"/><rect class="b2" x="643.66" y="452.31" width="4.43" height="66.29"/><rect class="b2" x="648.09" y="476.09" width="4.43" height="42.51"/><rect class="b2" x="652.52" y="489.23" width="4.43" height="29.37"/><rect class="b2" x="656.95" y="486.73" width="4.43" height="31.87"/><rect class="b2" x="661.38" y="489.23" width="4.43" height="29.37"/><rect class="b2" x="665.81" y="486.73" width="4.43" height="31.87"/><rect class="b2" x="670.24" y="486.73" width="4.43" height="31.87"/><rect class="b2" x="674.67" y="489.23" width="4.43" height="29.37"/><rect class="b2" x="679.1" y="499.45" width="4.43" height="19.15"/><rect class="b2" x="683.53" y="507.59" width="4.43" height="11.01"/><rect class="b2" x="687.96" y="510.09" width="4.43" height="8.51"/><rect class="b2" x="692.39" y="514.47" width="4.43" height="4.13"/><rect class="tb" x="696.32" y="516.9" width="5.43" height="2.3"/><rect class="tb" x="700.75" y="516.9" width="5.43" height="2.3"/><rect class="tb" x="718.47" y="516.9" width="5.43" height="2.3"/><rect class="tb" x="722.9" y="516.9" width="5.43" height="2.3"/><rect class="tb" x="731.76" y="516.9" width="5.43" height="2.3"/>
</g>
<text class="tl" x="516.5" y="535.5" text-anchor="middle">-5</text>
<text class="tl" x="560.3" y="535.5" text-anchor="middle">0</text>
<text class="tl" x="604.1" y="535.5" text-anchor="middle">5</text>
<text class="tl" x="647.9" y="535.5" text-anchor="middle">10</text>
<text class="tl" x="691.7" y="535.5" text-anchor="middle">15</text>
<text class="tl" x="735.5" y="535.5" text-anchor="middle">20</text>
<text class="tl" x="478.6" y="522.3" text-anchor="end">0</text>
<text class="tl" x="478.6" y="480.58" text-anchor="end">20</text>
<text class="tl" x="478.6" y="438.86" text-anchor="end">40</text>
<text class="tt" x="615.3" y="416.7" text-anchor="middle">2060</text>
</g>
<g>
<rect x="833.9" y="423.1" width="263.95" height="95.5" fill="#fff"/>
<path class="tk" d="M853.3 518.6v-2.3 M853.3 423.1v2.3 M893.45 518.6v-2.3 M893.45 423.1v2.3 M933.6 518.6v-2.3 M933.6 423.1v2.3 M973.75 518.6v-2.3 M973.75 423.1v2.3 M1013.9 518.6v-2.3 M1013.9 423.1v2.3 M1054.05 518.6v-2.3 M1054.05 423.1v2.3 M1094.2 518.6v-2.3 M1094.2 423.1v2.3 M833.9 517.6h2.3 M1097.85 517.6h-2.3 M833.9 475.88h2.3 M1097.85 475.88h-2.3 M833.9 434.16h2.3 M1097.85 434.16h-2.3"/>
<rect class="box" x="833.9" y="423.1" width="263.95" height="95.5"/>
<clipPath id="c8"><rect x="833.9" y="422.4" width="263.95" height="97"/></clipPath>
<g clip-path="url(#c8)">
<rect class="tb" x="844.57" y="516.9" width="5.07" height="2.3"/><rect class="tb" x="848.64" y="516.9" width="5.07" height="2.3"/><rect class="b1" x="853.2" y="511.97" width="4.07" height="6.63"/><rect class="b1" x="857.27" y="501.95" width="4.07" height="16.65"/><rect class="b1" x="861.33" y="486.73" width="4.07" height="31.87"/><rect class="b1" x="865.4" y="491.11" width="4.07" height="27.49"/><rect class="b1" x="869.46" y="486.1" width="4.07" height="32.5"/><rect class="b1" x="873.53" y="475.46" width="4.07" height="43.14"/><rect class="b1" x="877.59" y="466.07" width="4.07" height="52.53"/><rect class="b1" x="881.66" y="465.45" width="4.07" height="53.15"/><rect class="b1" x="885.72" y="454.81" width="4.07" height="63.79"/><rect class="b1" x="889.79" y="485.47" width="4.07" height="33.13"/><rect class="b1" x="893.85" y="465.66" width="4.07" height="52.94"/><rect class="b1" x="897.92" y="472.33" width="4.07" height="46.27"/><rect class="b1" x="901.98" y="465.66" width="4.07" height="52.94"/><rect class="b1" x="906.05" y="441.67" width="4.07" height="76.93"/><rect class="b1" x="910.11" y="470.45" width="4.07" height="48.15"/><rect class="b1" x="914.18" y="482.97" width="4.07" height="35.63"/><rect class="b1" x="918.24" y="495.7" width="4.07" height="22.9"/><rect class="b1" x="922.31" y="486.73" width="4.07" height="31.87"/><rect class="b1" x="926.37" y="478.59" width="4.07" height="40.01"/><rect class="b1" x="930.44" y="506.34" width="4.07" height="12.26"/><rect class="b1" x="934.5" y="499.45" width="4.07" height="19.15"/><rect class="b1" x="938.57" y="514.47" width="4.07" height="4.13"/><rect class="tb" x="942.13" y="516.9" width="5.07" height="2.3"/><rect class="b1" x="946.7" y="506.34" width="4.07" height="12.26"/><rect class="b1" x="950.76" y="511.97" width="4.07" height="6.63"/><rect class="b1" x="954.83" y="514.47" width="4.07" height="4.13"/><rect class="tb" x="958.39" y="516.9" width="5.07" height="2.3"/><rect class="tb" x="962.46" y="516.9" width="5.07" height="2.3"/>
<rect class="tb" x="968.63" y="516.9" width="5.07" height="2.3"/><rect class="b2" x="973.2" y="512.59" width="4.07" height="6.01"/><rect class="b2" x="977.26" y="500.08" width="4.07" height="18.52"/><rect class="b2" x="981.33" y="496.95" width="4.07" height="21.65"/><rect class="b2" x="985.39" y="480.47" width="4.07" height="38.13"/><rect class="b2" x="989.46" y="466.07" width="4.07" height="52.53"/><rect class="b2" x="993.52" y="462.94" width="4.07" height="55.66"/><rect class="b2" x="997.59" y="427.06" width="4.07" height="91.54"/><rect class="b2" x="1001.65" y="434.16" width="4.07" height="84.44"/><rect class="b2" x="1005.72" y="419.55" width="4.07" height="99.05"/><rect class="b2" x="1009.78" y="444.8" width="4.07" height="73.8"/><rect class="b2" x="1013.85" y="457.94" width="4.07" height="60.66"/><rect class="b2" x="1017.91" y="485.47" width="4.07" height="33.13"/><rect class="b2" x="1021.98" y="495.7" width="4.07" height="22.9"/><rect class="b2" x="1026.05" y="486.73" width="4.07" height="31.87"/><rect class="b2" x="1030.11" y="493.82" width="4.07" height="24.78"/><rect class="b2" x="1034.17" y="486.73" width="4.07" height="31.87"/><rect class="b2" x="1038.24" y="482.97" width="4.07" height="35.63"/><rect class="b2" x="1042.31" y="507.59" width="4.07" height="11.01"/><rect class="b2" x="1046.37" y="501.33" width="4.07" height="17.27"/><rect class="b2" x="1050.43" y="511.97" width="4.07" height="6.63"/><rect class="tb" x="1054" y="516.9" width="5.07" height="2.3"/><rect class="b2" x="1058.57" y="514.47" width="4.07" height="4.13"/><rect class="b2" x="1062.63" y="514.47" width="4.07" height="4.13"/><rect class="b2" x="1078.89" y="514.05" width="4.07" height="4.55"/><rect class="tb" x="1082.45" y="516.9" width="5.07" height="2.3"/>
</g>
<text class="tl" x="853.3" y="535.5" text-anchor="middle">-10</text>
<text class="tl" x="893.45" y="535.5" text-anchor="middle">-5</text>
<text class="tl" x="933.6" y="535.5" text-anchor="middle">0</text>
<text class="tl" x="973.75" y="535.5" text-anchor="middle">5</text>
<text class="tl" x="1013.9" y="535.5" text-anchor="middle">10</text>
<text class="tl" x="1054.05" y="535.5" text-anchor="middle">15</text>
<text class="tl" x="1094.2" y="535.5" text-anchor="middle">20</text>
<text class="tl" x="829.7" y="522.3" text-anchor="end">0</text>
<text class="tl" x="829.7" y="480.58" text-anchor="end">20</text>
<text class="tl" x="829.7" y="438.86" text-anchor="end">40</text>
<text class="tt" x="966.27" y="416.7" text-anchor="middle">2065</text>
</g>
<g>
<rect x="132" y="571.5" width="263.65" height="95" fill="#fff"/>
<path class="tk" d="M160.3 666.5v-2.3 M160.3 571.5v2.3 M199.6 666.5v-2.3 M199.6 571.5v2.3 M238.9 666.5v-2.3 M238.9 571.5v2.3 M278.2 666.5v-2.3 M278.2 571.5v2.3 M317.5 666.5v-2.3 M317.5 571.5v2.3 M356.8 666.5v-2.3 M356.8 571.5v2.3 M395.9 666.5v-2.3 M395.9 571.5v2.3 M132 665.5h2.3 M395.65 665.5h-2.3 M132 625.5h2.3 M395.65 625.5h-2.3 M132 585.5h2.3 M395.65 585.5h-2.3"/>
<rect class="box" x="132" y="571.5" width="263.65" height="95"/>
<clipPath id="c9"><rect x="132" y="570.8" width="263.65" height="96.5"/></clipPath>
<g clip-path="url(#c9)">
<rect class="tb" x="143.19" y="664.8" width="4.83" height="2.3"/><rect class="tb" x="147.02" y="664.8" width="4.83" height="2.3"/><rect class="b1" x="151.35" y="658.7" width="3.83" height="7.8"/><rect class="b1" x="155.18" y="638.3" width="3.83" height="28.2"/><rect class="b1" x="159.01" y="620.1" width="3.83" height="46.4"/><rect class="b1" x="162.84" y="567.5" width="3.83" height="99"/><rect class="b1" x="166.67" y="592.3" width="3.83" height="74.2"/><rect class="b1" x="170.5" y="594.9" width="3.83" height="71.6"/><rect class="b1" x="174.33" y="618" width="3.83" height="48.5"/><rect class="b1" x="178.16" y="579.3" width="3.83" height="87.2"/><rect class="b1" x="181.99" y="621.7" width="3.83" height="44.8"/><rect class="b1" x="185.82" y="613.7" width="3.83" height="52.8"/><rect class="b1" x="189.65" y="627.7" width="3.83" height="38.8"/><rect class="b1" x="193.48" y="640.5" width="3.83" height="26"/><rect class="b1" x="197.31" y="613.7" width="3.83" height="52.8"/><rect class="b1" x="201.14" y="626.1" width="3.83" height="40.4"/><rect class="b1" x="204.97" y="642.3" width="3.83" height="24.2"/><rect class="b1" x="208.8" y="646.1" width="3.83" height="20.4"/><rect class="b1" x="212.63" y="656.1" width="3.83" height="10.4"/><rect class="b1" x="216.46" y="655.7" width="3.83" height="10.8"/><rect class="b1" x="220.29" y="659.3" width="3.83" height="7.2"/><rect class="b1" x="224.12" y="659.3" width="3.83" height="7.2"/><rect class="b1" x="227.95" y="662.3" width="3.83" height="4.2"/><rect class="tb" x="231.28" y="664.8" width="4.83" height="2.3"/><rect class="b1" x="235.61" y="661.7" width="3.83" height="4.8"/><rect class="tb" x="250.43" y="664.8" width="4.83" height="2.3"/>
<rect class="b2" x="271.3" y="659.9" width="3.91" height="6.6"/><rect class="b2" x="275.21" y="661.7" width="3.91" height="4.8"/><rect class="b2" x="279.12" y="651.7" width="3.91" height="14.8"/><rect class="b2" x="283.03" y="640.5" width="3.91" height="26"/><rect class="b2" x="286.94" y="638.7" width="3.91" height="27.8"/><rect class="b2" x="290.85" y="613.9" width="3.91" height="52.6"/><rect class="b2" x="294.76" y="606.1" width="3.91" height="60.4"/><rect class="b2" x="298.67" y="592.3" width="3.91" height="74.2"/><rect class="b2" x="302.58" y="588.3" width="3.91" height="78.2"/><rect class="b2" x="306.49" y="587.5" width="3.91" height="79"/><rect class="b2" x="310.4" y="576.1" width="3.91" height="90.4"/><rect class="b2" x="314.31" y="616.1" width="3.91" height="50.4"/><rect class="b2" x="318.22" y="616.5" width="3.91" height="50"/><rect class="b2" x="322.13" y="637.7" width="3.91" height="28.8"/><rect class="b2" x="326.04" y="640.5" width="3.91" height="26"/><rect class="b2" x="329.95" y="627.7" width="3.91" height="38.8"/><rect class="b2" x="333.86" y="651.7" width="3.91" height="14.8"/><rect class="b2" x="337.77" y="642.7" width="3.91" height="23.8"/><rect class="b2" x="341.68" y="645.5" width="3.91" height="21"/><rect class="b2" x="345.59" y="651.1" width="3.91" height="15.4"/><rect class="b2" x="349.5" y="662" width="3.91" height="4.5"/><rect class="b2" x="353.41" y="659.3" width="3.91" height="7.2"/><rect class="tb" x="356.82" y="664.8" width="4.91" height="2.3"/><rect class="tb" x="360.73" y="664.8" width="4.91" height="2.3"/><rect class="b2" x="365.14" y="661.7" width="3.91" height="4.8"/><rect class="tb" x="368.55" y="664.8" width="4.91" height="2.3"/><rect class="tb" x="372.46" y="664.8" width="4.91" height="2.3"/><rect class="tb" x="376.37" y="664.8" width="4.91" height="2.3"/><rect class="tb" x="380.28" y="664.8" width="4.91" height="2.3"/>
</g>
<text class="tl" x="160.3" y="683.4" text-anchor="middle">-10</text>
<text class="tl" x="199.6" y="683.4" text-anchor="middle">-5</text>
<text class="tl" x="238.9" y="683.4" text-anchor="middle">0</text>
<text class="tl" x="278.2" y="683.4" text-anchor="middle">5</text>
<text class="tl" x="317.5" y="683.4" text-anchor="middle">10</text>
<text class="tl" x="356.8" y="683.4" text-anchor="middle">15</text>
<text class="tl" x="395.9" y="683.4" text-anchor="middle">20</text>
<text class="tl" x="127.8" y="670.2" text-anchor="end">0</text>
<text class="tl" x="127.8" y="630.2" text-anchor="end">20</text>
<text class="tl" x="127.8" y="590.2" text-anchor="end">40</text>
<text class="tt" x="264.22" y="565.1" text-anchor="middle">2070</text>
</g>
<g>
<rect x="482.8" y="571.5" width="264.2" height="95" fill="#fff"/>
<path class="tk" d="M482.75 666.5v-2.3 M482.75 571.5v2.3 M521 666.5v-2.3 M521 571.5v2.3 M559.25 666.5v-2.3 M559.25 571.5v2.3 M597.5 666.5v-2.3 M597.5 571.5v2.3 M635.75 666.5v-2.3 M635.75 571.5v2.3 M674 666.5v-2.3 M674 571.5v2.3 M712.25 666.5v-2.3 M712.25 571.5v2.3 M482.8 665.5h2.3 M747 665.5h-2.3 M482.8 636.12h2.3 M747 636.12h-2.3 M482.8 606.75h2.3 M747 606.75h-2.3 M482.8 577.38h2.3 M747 577.38h-2.3"/>
<rect class="box" x="482.8" y="571.5" width="264.2" height="95"/>
<clipPath id="c10"><rect x="482.8" y="570.8" width="264.2" height="96.5"/></clipPath>
<g clip-path="url(#c10)">
<rect class="b1" x="494.23" y="662.42" width="3.83" height="4.08"/><rect class="b1" x="498.05" y="659.18" width="3.83" height="7.32"/><rect class="b1" x="501.88" y="644.2" width="3.83" height="22.3"/><rect class="b1" x="505.7" y="619.97" width="3.83" height="46.53"/><rect class="b1" x="509.53" y="604.55" width="3.83" height="61.95"/><rect class="b1" x="513.35" y="567.09" width="3.83" height="99.41"/><rect class="b1" x="517.18" y="588.24" width="3.83" height="78.26"/><rect class="b1" x="521" y="595.88" width="3.83" height="70.62"/><rect class="b1" x="524.83" y="602.05" width="3.83" height="64.45"/><rect class="b1" x="528.65" y="621.58" width="3.83" height="44.92"/><rect class="b1" x="532.48" y="638.48" width="3.83" height="28.02"/><rect class="b1" x="536.3" y="649.2" width="3.83" height="17.3"/><rect class="b1" x="540.12" y="651.69" width="3.83" height="14.81"/><rect class="b1" x="543.95" y="656.1" width="3.83" height="10.4"/><rect class="b1" x="547.77" y="659.92" width="3.83" height="6.58"/><rect class="b1" x="551.6" y="659.92" width="3.83" height="6.58"/><rect class="tb" x="554.93" y="664.8" width="4.83" height="2.3"/><rect class="b1" x="559.25" y="659.18" width="3.83" height="7.32"/><rect class="tb" x="562.58" y="664.8" width="4.83" height="2.3"/><rect class="b1" x="566.9" y="661.68" width="3.83" height="4.82"/><rect class="b1" x="570.73" y="662.71" width="3.83" height="3.79"/><rect class="tb" x="574.05" y="664.8" width="4.83" height="2.3"/><rect class="tb" x="577.88" y="664.8" width="4.83" height="2.3"/>
<rect class="b2" x="620.45" y="661.98" width="3.83" height="4.52"/><rect class="b2" x="624.28" y="658.01" width="3.83" height="8.49"/><rect class="b2" x="628.1" y="653.02" width="3.83" height="13.48"/><rect class="b2" x="631.93" y="640.97" width="3.83" height="25.53"/><rect class="b2" x="635.75" y="630.98" width="3.83" height="35.52"/><rect class="b2" x="639.58" y="636.57" width="3.83" height="29.93"/><rect class="b2" x="643.4" y="627.9" width="3.83" height="38.6"/><rect class="b2" x="647.23" y="600.88" width="3.83" height="65.62"/><rect class="b2" x="651.05" y="616.74" width="3.83" height="49.76"/><rect class="b2" x="654.88" y="593.97" width="3.83" height="72.53"/><rect class="b2" x="658.7" y="625.99" width="3.83" height="40.51"/><rect class="b2" x="662.53" y="624.67" width="3.83" height="41.83"/><rect class="b2" x="666.35" y="630.4" width="3.83" height="36.1"/><rect class="b2" x="670.18" y="651.69" width="3.83" height="14.81"/><rect class="b2" x="674" y="645.38" width="3.83" height="21.12"/><rect class="b2" x="677.83" y="645.38" width="3.83" height="21.12"/><rect class="b2" x="681.65" y="647.88" width="3.83" height="18.62"/><rect class="b2" x="685.48" y="655.51" width="3.83" height="10.99"/><rect class="b2" x="689.3" y="652.72" width="3.83" height="13.78"/><rect class="b2" x="693.12" y="658.01" width="3.83" height="8.49"/><rect class="b2" x="696.95" y="655.66" width="3.83" height="10.84"/><rect class="b2" x="700.78" y="662.42" width="3.83" height="4.08"/><rect class="b2" x="704.6" y="659.92" width="3.83" height="6.58"/><rect class="tb" x="707.93" y="664.8" width="4.83" height="2.3"/><rect class="tb" x="711.75" y="664.8" width="4.83" height="2.3"/><rect class="tb" x="715.58" y="664.8" width="4.83" height="2.3"/><rect class="tb" x="730.88" y="664.8" width="4.83" height="2.3"/>
</g>
<text class="tl" x="482.75" y="683.4" text-anchor="middle">-15</text>
<text class="tl" x="521" y="683.4" text-anchor="middle">-10</text>
<text class="tl" x="559.25" y="683.4" text-anchor="middle">-5</text>
<text class="tl" x="597.5" y="683.4" text-anchor="middle">0</text>
<text class="tl" x="635.75" y="683.4" text-anchor="middle">5</text>
<text class="tl" x="674" y="683.4" text-anchor="middle">10</text>
<text class="tl" x="712.25" y="683.4" text-anchor="middle">15</text>
<text class="tl" x="478.6" y="670.2" text-anchor="end">0</text>
<text class="tl" x="478.6" y="640.83" text-anchor="end">20</text>
<text class="tl" x="478.6" y="611.45" text-anchor="end">40</text>
<text class="tl" x="478.6" y="582.08" text-anchor="end">60</text>
<text class="tt" x="615.3" y="565.1" text-anchor="middle">2075</text>
</g>
<g>
<rect x="833.9" y="571.5" width="263.95" height="95" fill="#fff"/>
<path class="tk" d="M845 666.5v-2.3 M845 571.5v2.3 M886 666.5v-2.3 M886 571.5v2.3 M927 666.5v-2.3 M927 571.5v2.3 M968 666.5v-2.3 M968 571.5v2.3 M1009 666.5v-2.3 M1009 571.5v2.3 M1050 666.5v-2.3 M1050 571.5v2.3 M1091 666.5v-2.3 M1091 571.5v2.3 M833.9 665.5h2.3 M1097.85 665.5h-2.3 M833.9 636.35h2.3 M1097.85 636.35h-2.3 M833.9 607.21h2.3 M1097.85 607.21h-2.3 M833.9 578.06h2.3 M1097.85 578.06h-2.3"/>
<rect class="box" x="833.9" y="571.5" width="263.95" height="95"/>
<clipPath id="c11"><rect x="833.9" y="570.8" width="263.95" height="96.5"/></clipPath>
<g clip-path="url(#c11)">
<rect class="tb" x="844.67" y="664.8" width="5.12" height="2.3"/><rect class="tb" x="848.78" y="664.8" width="5.12" height="2.3"/><rect class="b1" x="853.4" y="642.91" width="4.12" height="23.59"/><rect class="b1" x="857.51" y="630.38" width="4.12" height="36.12"/><rect class="b1" x="861.63" y="613.62" width="4.12" height="52.88"/><rect class="b1" x="865.75" y="585.78" width="4.12" height="80.72"/><rect class="b1" x="869.86" y="567.86" width="4.12" height="98.64"/><rect class="b1" x="873.97" y="580.1" width="4.12" height="86.4"/><rect class="b1" x="878.09" y="596.42" width="4.12" height="70.08"/><rect class="b1" x="882.2" y="615.22" width="4.12" height="51.28"/><rect class="b1" x="886.32" y="640.43" width="4.12" height="26.07"/><rect class="b1" x="890.43" y="657.92" width="4.12" height="8.58"/><rect class="b1" x="894.55" y="651.66" width="4.12" height="14.84"/><rect class="b1" x="898.66" y="657.92" width="4.12" height="8.58"/><rect class="tb" x="902.28" y="664.8" width="5.12" height="2.3"/><rect class="b1" x="906.89" y="659.82" width="4.12" height="6.68"/><rect class="tb" x="910.51" y="664.8" width="5.12" height="2.3"/><rect class="b1" x="915.12" y="662.29" width="4.12" height="4.21"/><rect class="tb" x="918.74" y="664.8" width="5.12" height="2.3"/><rect class="tb" x="922.86" y="664.8" width="5.12" height="2.3"/><rect class="b1" x="927.47" y="662" width="4.12" height="4.5"/><rect class="tb" x="935.2" y="664.8" width="5.12" height="2.3"/>
<rect class="tb" x="982.88" y="664.8" width="5.12" height="2.3"/><rect class="b2" x="987.5" y="654.13" width="4.12" height="12.37"/><rect class="b2" x="991.62" y="646.7" width="4.12" height="19.8"/><rect class="b2" x="995.73" y="642.91" width="4.12" height="23.59"/><rect class="b2" x="999.85" y="624.69" width="4.12" height="41.81"/><rect class="b2" x="1003.96" y="630.38" width="4.12" height="36.12"/><rect class="b2" x="1008.08" y="630.96" width="4.12" height="35.54"/><rect class="b2" x="1012.19" y="596.42" width="4.12" height="70.08"/><rect class="b2" x="1016.3" y="609.54" width="4.12" height="56.96"/><rect class="b2" x="1020.42" y="607.06" width="4.12" height="59.44"/><rect class="b2" x="1024.54" y="620.32" width="4.12" height="46.18"/><rect class="b2" x="1028.65" y="635.33" width="4.12" height="31.17"/><rect class="b2" x="1032.77" y="639.12" width="4.12" height="27.38"/><rect class="b2" x="1036.88" y="645.39" width="4.12" height="21.11"/><rect class="b2" x="1040.99" y="647.87" width="4.12" height="18.63"/><rect class="b2" x="1045.11" y="648.59" width="4.12" height="17.91"/><rect class="b2" x="1049.22" y="657.92" width="4.12" height="8.58"/><rect class="b2" x="1053.34" y="652.97" width="4.12" height="13.53"/><rect class="b2" x="1057.45" y="654.42" width="4.12" height="12.08"/><rect class="b2" x="1061.57" y="658.65" width="4.12" height="7.85"/><rect class="b2" x="1065.68" y="652.97" width="4.12" height="13.53"/><rect class="tb" x="1069.3" y="664.8" width="5.12" height="2.3"/><rect class="tb" x="1073.41" y="664.8" width="5.12" height="2.3"/><rect class="b2" x="1082.14" y="662" width="4.12" height="4.5"/><rect class="tb" x="1089.88" y="664.8" width="5.12" height="2.3"/>
</g>
<text class="tl" x="845" y="683.4" text-anchor="middle">-15</text>
<text class="tl" x="886" y="683.4" text-anchor="middle">-10</text>
<text class="tl" x="927" y="683.4" text-anchor="middle">-5</text>
<text class="tl" x="968" y="683.4" text-anchor="middle">0</text>
<text class="tl" x="1009" y="683.4" text-anchor="middle">5</text>
<text class="tl" x="1050" y="683.4" text-anchor="middle">10</text>
<text class="tl" x="1091" y="683.4" text-anchor="middle">15</text>
<text class="tl" x="829.7" y="670.2" text-anchor="end">0</text>
<text class="tl" x="829.7" y="641.05" text-anchor="end">20</text>
<text class="tl" x="829.7" y="611.91" text-anchor="end">40</text>
<text class="tl" x="829.7" y="582.76" text-anchor="end">60</text>
<text class="tt" x="966.27" y="565.1" text-anchor="middle">2080</text>
</g>
<g>
<rect x="132" y="719.4" width="263.65" height="95.6" fill="#fff"/>
<path class="tk" d="M142.5 815v-2.3 M142.5 719.4v2.3 M185.5 815v-2.3 M185.5 719.4v2.3 M228.5 815v-2.3 M228.5 719.4v2.3 M271.5 815v-2.3 M271.5 719.4v2.3 M314.5 815v-2.3 M314.5 719.4v2.3 M357.5 815v-2.3 M357.5 719.4v2.3 M132 814.1h2.3 M395.65 814.1h-2.3 M132 786.25h2.3 M395.65 786.25h-2.3 M132 758.39h2.3 M395.65 758.39h-2.3 M132 730.54h2.3 M395.65 730.54h-2.3"/>
<rect class="box" x="132" y="719.4" width="263.65" height="95.6"/>
<clipPath id="c12"><rect x="132" y="718.7" width="263.65" height="97.1"/></clipPath>
<g clip-path="url(#c12)">
<rect class="b1" x="142.5" y="790.29" width="4.3" height="24.71"/><rect class="b1" x="146.8" y="767.86" width="4.3" height="47.14"/><rect class="b1" x="151.1" y="731.79" width="4.3" height="83.21"/><rect class="b1" x="155.4" y="715.22" width="4.3" height="99.78"/><rect class="b1" x="159.7" y="727.34" width="4.3" height="87.66"/><rect class="b1" x="164" y="727.34" width="4.3" height="87.66"/><rect class="b1" x="168.3" y="763.83" width="4.3" height="51.17"/><rect class="b1" x="172.6" y="786.39" width="4.3" height="28.61"/><rect class="b1" x="176.9" y="797.11" width="4.3" height="17.89"/><rect class="b1" x="181.2" y="805.33" width="4.3" height="9.67"/><rect class="tb" x="185" y="813.3" width="5.3" height="2.3"/><rect class="b1" x="189.8" y="810.34" width="4.3" height="4.66"/><rect class="tb" x="193.6" y="813.3" width="5.3" height="2.3"/><rect class="tb" x="197.9" y="813.3" width="5.3" height="2.3"/><rect class="tb" x="202.2" y="813.3" width="5.3" height="2.3"/><rect class="b1" x="207" y="807.14" width="4.3" height="7.86"/><rect class="tb" x="215.1" y="813.3" width="5.3" height="2.3"/><rect class="tb" x="223.7" y="813.3" width="5.3" height="2.3"/><rect class="tb" x="228" y="813.3" width="5.3" height="2.3"/>
<rect class="tb" x="279.6" y="813.3" width="5.3" height="2.3"/><rect class="tb" x="283.9" y="813.3" width="5.3" height="2.3"/><rect class="b2" x="288.7" y="807.83" width="4.3" height="7.17"/><rect class="b2" x="293" y="799.89" width="4.3" height="15.11"/><rect class="b2" x="297.3" y="789.03" width="4.3" height="25.97"/><rect class="b2" x="301.6" y="780.12" width="4.3" height="34.88"/><rect class="b2" x="305.9" y="770.79" width="4.3" height="44.21"/><rect class="b2" x="310.2" y="752.54" width="4.3" height="62.46"/><rect class="b2" x="314.5" y="765.08" width="4.3" height="49.92"/><rect class="b2" x="318.8" y="755.05" width="4.3" height="59.95"/><rect class="b2" x="323.1" y="759.37" width="4.3" height="55.63"/><rect class="b2" x="327.4" y="776.36" width="4.3" height="38.64"/><rect class="b2" x="331.7" y="793.35" width="4.3" height="21.65"/><rect class="b2" x="336" y="787.08" width="4.3" height="27.92"/><rect class="b2" x="340.3" y="793.35" width="4.3" height="21.65"/><rect class="b2" x="344.6" y="793.35" width="4.3" height="21.65"/><rect class="b2" x="348.9" y="800.31" width="4.3" height="14.69"/><rect class="b2" x="353.2" y="797.81" width="4.3" height="17.19"/><rect class="b2" x="357.5" y="799.34" width="4.3" height="15.66"/><rect class="b2" x="361.8" y="803.38" width="4.3" height="11.62"/><rect class="tb" x="365.6" y="813.3" width="5.3" height="2.3"/><rect class="tb" x="369.9" y="813.3" width="5.3" height="2.3"/><rect class="tb" x="374.2" y="813.3" width="5.3" height="2.3"/><rect class="tb" x="378.5" y="813.3" width="5.3" height="2.3"/>
</g>
<text class="tl" x="142.5" y="831.9" text-anchor="middle">-15</text>
<text class="tl" x="185.5" y="831.9" text-anchor="middle">-10</text>
<text class="tl" x="228.5" y="831.9" text-anchor="middle">-5</text>
<text class="tl" x="271.5" y="831.9" text-anchor="middle">0</text>
<text class="tl" x="314.5" y="831.9" text-anchor="middle">5</text>
<text class="tl" x="357.5" y="831.9" text-anchor="middle">10</text>
<text class="tl" x="127.8" y="818.8" text-anchor="end">0</text>
<text class="tl" x="127.8" y="790.95" text-anchor="end">20</text>
<text class="tl" x="127.8" y="763.09" text-anchor="end">40</text>
<text class="tl" x="127.8" y="735.24" text-anchor="end">60</text>
<text class="tt" x="264.22" y="713" text-anchor="middle">2085</text>
</g>
<g>
<rect x="482.8" y="719.4" width="264.2" height="95.6" fill="#fff"/>
<path class="tk" d="M499.12 815v-2.3 M499.12 719.4v2.3 M542.7 815v-2.3 M542.7 719.4v2.3 M586.27 815v-2.3 M586.27 719.4v2.3 M629.85 815v-2.3 M629.85 719.4v2.3 M673.43 815v-2.3 M673.43 719.4v2.3 M717 815v-2.3 M717 719.4v2.3 M482.8 814.1h2.3 M747 814.1h-2.3 M482.8 773.8h2.3 M747 773.8h-2.3 M482.8 733.5h2.3 M747 733.5h-2.3"/>
<rect class="box" x="482.8" y="719.4" width="264.2" height="95.6"/>
<clipPath id="c13"><rect x="482.8" y="718.7" width="264.2" height="97.1"/></clipPath>
<g clip-path="url(#c13)">
<rect class="tb" x="494.27" y="813.3" width="5.36" height="2.3"/><rect class="b1" x="499.13" y="785.89" width="4.36" height="29.11"/><rect class="b1" x="503.48" y="742.05" width="4.36" height="72.95"/><rect class="b1" x="507.84" y="715.77" width="4.36" height="99.23"/><rect class="b1" x="512.2" y="754.54" width="4.36" height="60.46"/><rect class="b1" x="516.56" y="783.39" width="4.36" height="31.61"/><rect class="b1" x="520.91" y="803.46" width="4.36" height="11.54"/><rect class="b1" x="525.27" y="805.96" width="4.36" height="9.04"/><rect class="tb" x="537.84" y="813.3" width="5.36" height="2.3"/><rect class="tb" x="542.2" y="813.3" width="5.36" height="2.3"/><rect class="tb" x="577.06" y="813.3" width="5.36" height="2.3"/><rect class="tb" x="581.42" y="813.3" width="5.36" height="2.3"/>
<rect class="tb" x="638.07" y="813.3" width="5.36" height="2.3"/><rect class="tb" x="642.42" y="813.3" width="5.36" height="2.3"/><rect class="b2" x="647.28" y="805.32" width="4.36" height="9.68"/><rect class="b2" x="651.64" y="805.96" width="4.36" height="9.04"/><rect class="b2" x="656" y="795.32" width="4.36" height="19.68"/><rect class="b2" x="660.35" y="793.39" width="4.36" height="21.61"/><rect class="b2" x="664.71" y="788.39" width="4.36" height="26.61"/><rect class="b2" x="669.07" y="775.9" width="4.36" height="39.1"/><rect class="b2" x="673.43" y="782.75" width="4.36" height="32.25"/><rect class="b2" x="677.78" y="775.9" width="4.36" height="39.1"/><rect class="b2" x="682.14" y="794.68" width="4.36" height="20.32"/><rect class="b2" x="686.5" y="797.17" width="4.36" height="17.83"/><rect class="b2" x="690.86" y="799.67" width="4.36" height="15.33"/><rect class="b2" x="695.21" y="799.67" width="4.36" height="15.33"/><rect class="b2" x="699.57" y="808.46" width="4.36" height="6.54"/><rect class="b2" x="703.93" y="804.11" width="4.36" height="10.89"/><rect class="b2" x="708.29" y="803.7" width="4.36" height="11.3"/><rect class="b2" x="712.64" y="805.32" width="4.36" height="9.68"/><rect class="b2" x="717" y="807.81" width="4.36" height="7.19"/><rect class="b2" x="721.36" y="809.75" width="4.36" height="5.25"/><rect class="tb" x="725.22" y="813.3" width="5.36" height="2.3"/>
</g>
<text class="tl" x="499.12" y="831.9" text-anchor="middle">-15</text>
<text class="tl" x="542.7" y="831.9" text-anchor="middle">-10</text>
<text class="tl" x="586.27" y="831.9" text-anchor="middle">-5</text>
<text class="tl" x="629.85" y="831.9" text-anchor="middle">0</text>
<text class="tl" x="673.43" y="831.9" text-anchor="middle">5</text>
<text class="tl" x="717" y="831.9" text-anchor="middle">10</text>
<text class="tl" x="478.6" y="818.8" text-anchor="end">0</text>
<text class="tl" x="478.6" y="778.5" text-anchor="end">50</text>
<text class="tl" x="478.6" y="738.2" text-anchor="end">100</text>
<text class="tt" x="599.4" y="713">2</text>
<use href="#toolbar" x="350.8" y="443.9"/>
</g>
<g>
<rect x="833.9" y="719.4" width="263.95" height="95.6" fill="#fff"/>
<path class="tk" d="M858.3 815v-2.3 M858.3 719.4v2.3 M902.1 815v-2.3 M902.1 719.4v2.3 M945.9 815v-2.3 M945.9 719.4v2.3 M989.7 815v-2.3 M989.7 719.4v2.3 M1033.5 815v-2.3 M1033.5 719.4v2.3 M1077.3 815v-2.3 M1077.3 719.4v2.3 M833.9 814.1h2.3 M1097.85 814.1h-2.3 M833.9 782.53h2.3 M1097.85 782.53h-2.3 M833.9 750.97h2.3 M1097.85 750.97h-2.3 M833.9 719.4h2.3 M1097.85 719.4h-2.3"/>
<rect class="box" x="833.9" y="719.4" width="263.95" height="95.6"/>
<clipPath id="c14"><rect x="833.9" y="718.7" width="263.95" height="97.1"/></clipPath>
<g clip-path="url(#c14)">
<rect class="b1" x="853.92" y="807.22" width="4.38" height="7.78"/><rect class="b1" x="858.3" y="782.72" width="4.38" height="32.28"/><rect class="b1" x="862.68" y="750.08" width="4.38" height="64.92"/><rect class="b1" x="867.06" y="733.16" width="4.38" height="81.84"/><rect class="b1" x="871.44" y="775.84" width="4.38" height="39.16"/><rect class="b1" x="875.82" y="795.92" width="4.38" height="19.08"/><rect class="tb" x="879.7" y="813.3" width="5.38" height="2.3"/><rect class="tb" x="884.08" y="813.3" width="5.38" height="2.3"/><rect class="tb" x="897.22" y="813.3" width="5.38" height="2.3"/>
<rect class="tb" x="997.96" y="813.3" width="5.38" height="2.3"/><rect class="b2" x="1002.84" y="810.31" width="4.38" height="4.69"/><rect class="b2" x="1007.22" y="807.79" width="4.38" height="7.21"/><rect class="b2" x="1011.6" y="801.54" width="4.38" height="13.46"/><rect class="b2" x="1015.98" y="794.65" width="4.38" height="20.35"/><rect class="b2" x="1020.36" y="792.76" width="4.38" height="22.24"/><rect class="b2" x="1024.74" y="786.51" width="4.38" height="28.49"/><rect class="b2" x="1029.12" y="788.34" width="4.38" height="26.66"/><rect class="b2" x="1033.5" y="786.51" width="4.38" height="28.49"/><rect class="b2" x="1037.88" y="792.13" width="4.38" height="22.87"/><rect class="b2" x="1042.26" y="804.06" width="4.38" height="10.94"/><rect class="b2" x="1046.64" y="799.64" width="4.38" height="15.36"/><rect class="b2" x="1051.02" y="807.79" width="4.38" height="7.21"/><rect class="b2" x="1055.4" y="805.96" width="4.38" height="9.04"/><rect class="b2" x="1059.78" y="807.22" width="4.38" height="7.78"/><rect class="b2" x="1064.16" y="805.96" width="4.38" height="9.04"/><rect class="b2" x="1068.54" y="807.22" width="4.38" height="7.78"/><rect class="b2" x="1072.92" y="807.79" width="4.38" height="7.21"/><rect class="b2" x="1077.3" y="810.31" width="4.38" height="4.69"/><rect class="tb" x="1081.18" y="813.3" width="5.38" height="2.3"/>
</g>
<text class="tl" x="858.3" y="831.9" text-anchor="middle">-15</text>
<text class="tl" x="902.1" y="831.9" text-anchor="middle">-10</text>
<text class="tl" x="945.9" y="831.9" text-anchor="middle">-5</text>
<text class="tl" x="989.7" y="831.9" text-anchor="middle">0</text>
<text class="tl" x="1033.5" y="831.9" text-anchor="middle">5</text>
<text class="tl" x="1077.3" y="831.9" text-anchor="middle">10</text>
<text class="tl" x="829.7" y="818.8" text-anchor="end">0</text>
<text class="tl" x="829.7" y="787.23" text-anchor="end">50</text>
<text class="tl" x="829.7" y="755.67" text-anchor="end">100</text>
<text class="tl" x="829.7" y="724.1" text-anchor="end">150</text>
<text class="tt" x="950.5" y="713">2</text>
<use href="#toolbar" x="701.9" y="443.9"/>
</g><g>
<rect x="569.2" y="846" width="92.4" height="36.3" rx="1.5" fill="#fff" stroke="#6e6e6e" stroke-width="1.3"/>
<rect class="b1" x="573.5" y="850.7" width="46" height="10.8" rx="1"/>
<rect class="b2" x="573.5" y="867.1" width="46" height="10.8" rx="1"/>
<text class="lg" x="624" y="860.6">Bank1</text>
<text class="lg" x="624" y="877">Bank2</text>
</g>
</g>
</svg>
</body>
</html>
